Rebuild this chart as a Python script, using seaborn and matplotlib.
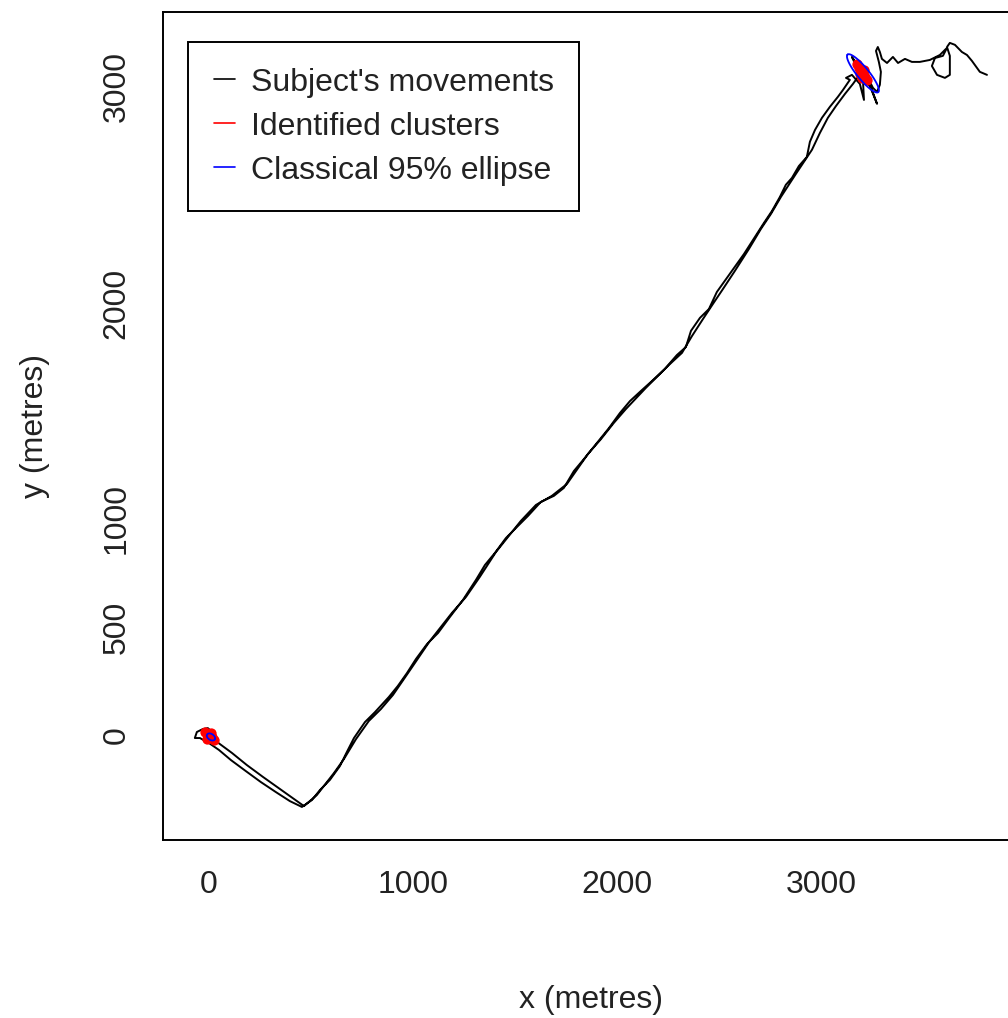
import numpy as np
import pandas as pd
import seaborn as sns
import matplotlib
matplotlib.use("Agg")
import matplotlib.pyplot as plt
from matplotlib.lines import Line2D

# ---------------- data (metres) ----------------
# east wander -> NE cluster
east_x = [3814, 3779, 3765, 3740, 3716, 3691, 3657, 3632, 3618, 3632, 3632, 3608, 3569, 3544, 3559, 3598,
          3618, 3583, 3534, 3485, 3446, 3412, 3378, 3353, 3324, 3299, 3289, 3279, 3270, 3284, 3294, 3289,
          3275, 3255, 3235, 3211]
east_y = [3056, 3070, 3088, 3121, 3148, 3162, 3195, 3204, 3185, 3144, 3056, 3042, 3056, 3097, 3134, 3144,
          3181, 3148, 3125, 3116, 3116, 3130, 3111, 3139, 3111, 3130, 3162, 3185, 3167, 3116, 3070, 3010,
          2977, 2996, 3033, 3065]
# scribble inside NE cluster
ne_x = [3176, 3152, 3172, 3201, 3230, 3250, 3275, 3240, 3206, 3211, 3191, 3152, 3123, 3142, 3108]
ne_y = [3107, 3139, 3097, 3056, 3023, 2986, 2922, 3005, 3033, 2940, 3014, 3056, 3042, 3033, 2986]
# first pass down the diagonal
down_x = [3083, 3044, 3005, 2971, 2946, 2931, 2892, 2858, 2828, 2799, 2760, 2721, 2667, 2623, 2574, 2539,
          2490, 2451, 2407, 2363, 2338, 2294, 2235, 2172, 2118, 2064, 2015, 1961, 1902, 1843, 1789, 1740,
          1691, 1627, 1564, 1510, 1456, 1402, 1353, 1309, 1245, 1181, 1123, 1069, 1015, 971, 926, 882,
          814, 765, 711, 676, 642, 593, 544, 505, 456]
down_y = [2954, 2908, 2857, 2801, 2746, 2676, 2634, 2579, 2547, 2491, 2426, 2371, 2292, 2227, 2162, 2116,
          2051, 1972, 1931, 1871, 1796, 1759, 1695, 1639, 1593, 1546, 1491, 1421, 1352, 1283, 1222, 1144,
          1107, 1079, 1014, 963, 912, 843, 787, 718, 625, 546, 472, 421, 352, 287, 227, 176,
          106, 60, -14, -79, -144, -208, -255, -301, -333]
# vertex -> origin
west_x = [397, 328, 255, 181, 108, 49, 0]
west_y = [-306, -264, -218, -167, -116, -69, -37]
# scribble at origin cluster
org_x = [-44, -69, -59, -29, -5, 20, 10, 29, -20, -34, 0]
org_y = [-14, -14, 14, 28, 32, 9, -28, -9, 0, 19, -5]
# return pass origin -> NE cluster
back_x = [34, 113, 186, 265, 348, 431, 466, 529, 613, 662, 721, 784, 843, 902, 990, 1083, 1191, 1260,
          1328, 1407, 1529, 1603, 1681, 1755, 1858, 1922, 1985, 2044, 2142, 2255, 2319, 2368, 2422, 2471,
          2520, 2578, 2647, 2706, 2755, 2804, 2877, 2956, 2995, 3034, 3074, 3118, 3157, 3196, 3162, 3221,
          3186]
back_y = [-28, -83, -139, -194, -250, -306, -329, -278, -176, -111, -19, 65, 120, 185, 306, 435, 565, 639,
          732, 847, 991, 1065, 1107, 1162, 1301, 1370, 1445, 1509, 1607, 1713, 1769, 1847, 1926, 1996,
          2065, 2148, 2250, 2343, 2412, 2491, 2597, 2709, 2787, 2857, 2912, 2968, 3014, 3065, 3111, 3037,
          3088]

# identified cluster points
cluster_x = [3176, 3186, 3196, 3206, 3216, 3226, 3191, 3211, 3201, -20, 0, 15, 25, -10, 10]
cluster_y = [3107, 3088, 3074, 3060, 3047, 3033, 3060, 3079, 3042, 14, 0, -9, -23, -19, 9]

# classical 95% ellipses: centre, semi-axes, angle (deg)
ell_cx = [3206, 10]
ell_cy = [3063, -9]
ell_a = [115, 22]
ell_b = [28, 14]
ell_ang = [131, -30]

x_ticks = [0, 1000, 2000, 3000]
y_ticks = [0, 500, 1000, 1500, 2000, 2500, 3000]
y_tick_labels = ["0", "500", "1000", "", "2000", "", "3000"]
legend_labels = ["Subject's movements", "Identified clusters", "Classical 95% ellipse"]
legend_colors = ["black", "#FF0000", "#0000FF"]

# ---------------- plot ----------------
sns.set_style("white")
plt.rcParams['font.family'] = ['Liberation Sans', 'DejaVu Sans']

fig = plt.figure(figsize=(10.08, 10.18), dpi=100)
ax = fig.add_axes([163/1008, 178/1018, 856/1008, 828/1018])

track = pd.DataFrame({
    "x": east_x + ne_x + down_x + west_x + org_x + back_x,
    "y": east_y + ne_y + down_y + west_y + org_y + back_y,
})
sns.lineplot(data=track, x="x", y="y", sort=False, estimator=None, color="black",
             linewidth=1.4, ax=ax, zorder=2)

sns.scatterplot(x=cluster_x, y=cluster_y, color="#FF0000", s=55, linewidth=0, ax=ax, zorder=3)

t = np.linspace(0, 2 * np.pi, 120)
for cx, cy, a, b, ang in zip(ell_cx, ell_cy, ell_a, ell_b, ell_ang):
    th = np.deg2rad(ang)
    ex = cx + a * np.cos(t) * np.cos(th) - b * np.sin(t) * np.sin(th)
    ey = cy + a * np.cos(t) * np.sin(th) + b * np.sin(t) * np.cos(th)
    sns.lineplot(x=ex, y=ey, sort=False, estimator=None, color="#0000FF", linewidth=1.3, ax=ax, zorder=4)

ax.set_xlim(-225, 3971)
ax.set_ylim(-486, 3347)

ax.set_xticks(x_ticks)
ax.set_xticklabels([str(v) for v in x_ticks])
ax.set_yticks(y_ticks)
ax.set_yticklabels(y_tick_labels, rotation=90, va="center")

ax.tick_params(axis="both", direction="out", length=11.5, width=1.2, color="black",
               labelsize=23, labelcolor="#222222")
ax.tick_params(axis="x", pad=10)
ax.tick_params(axis="y", pad=11)

for sp in ax.spines.values():
    sp.set_color("black")
    sp.set_linewidth(1.4)
    sp.set_visible(True)

ax.set_xlabel("x (metres)", fontsize=23, color="#222222")
ax.set_ylabel("y (metres)", fontsize=23, color="#222222")
ax.xaxis.set_label_coords(0.5, -0.175)
ax.yaxis.set_label_coords(-0.132, 0.5)

handles = [Line2D([0], [0], color=c, lw=1.2) for c in legend_colors]
leg = ax.legend(handles, legend_labels, loc="upper left",
                bbox_to_anchor=(188/1008, 1 - 42/1018), bbox_transform=fig.transFigure,
                borderaxespad=0, fontsize=23, frameon=True, fancybox=False, framealpha=1,
                edgecolor="black", borderpad=0.8, handlelength=0.66, handletextpad=0.5,
                labelspacing=0.44)
leg.get_frame().set_linewidth(1.4)
for txt in leg.get_texts():
    txt.set_color("#222222")

fig.savefig("out.png", dpi=100)
